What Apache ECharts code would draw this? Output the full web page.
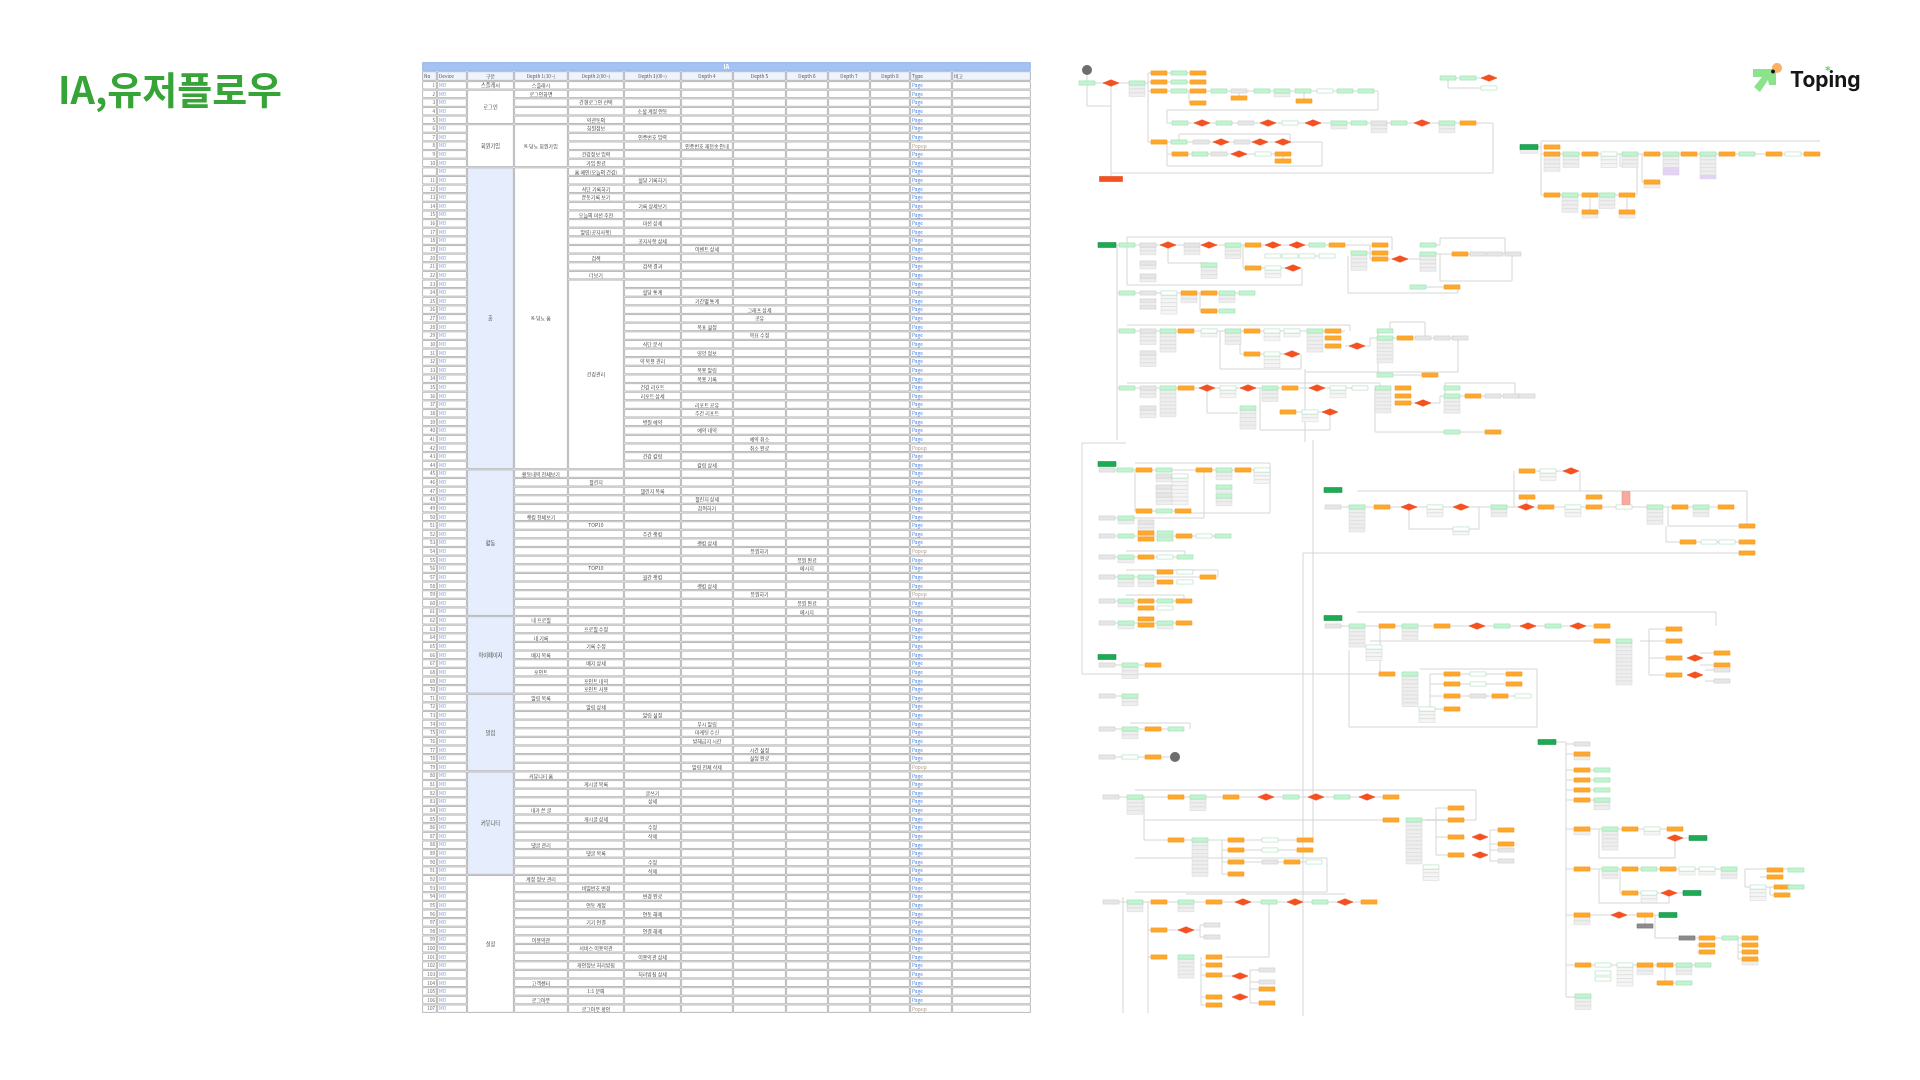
<!DOCTYPE html>
<html><head><meta charset="utf-8">
<script src="https://cdn.jsdelivr.net/npm/echarts@6/dist/echarts.min.js"></script>
<style>html,body{margin:0;padding:0;background:#fff}#c{width:1920px;height:1080px}</style>
</head><body><div id="c"></div>
<script>
// ---------- DATA ----------
const pageTitle = 'IA,유저플로우';
const brandName = 'Toping';
const tableTitle = 'IA';
const tableColumns = ['No','Device','구분','Depth 1(10~)','Depth 2(00~)','Depth 3(00~)','Depth 4','Depth 5','Depth 6','Depth 7','Depth 8','Type','비고'];
const deviceLabel = 'MO';
const rowNos = [1,2,3,4,5,6,7,8,9,10,'',11,12,13,14,15,16,17,18,19,20,21,22,23,24,25,26,27,28,29,30,31,32,33,34,35,36,37,38,39,40,41,42,43,44,45,46,47,48,49,50,51,52,53,54,55,56,57,58,59,60,61,62,63,64,65,66,67,68,69,70,71,72,73,74,75,76,77,78,79,80,81,82,83,84,85,86,87,88,89,90,91,92,93,94,95,96,97,98,99,100,101,102,103,104,105,106,107];
const rowLevel = [1,1,2,3,2,2,3,4,2,2, 2,3,2,2,3,2,3,2,3,4, 2,3,2,0,3,4,5,5,4,5, 3,4,3,4,4,3,3,4,4,3, 4,5,5,3,4,1,2,3,4,4, 1,2,3,4,5,6,6,3,4,5, 6,6,1,2,1,2,1,2,1,2, 2,1,2,3,4,4,4,5,5,4, 1,2,3,3,1,2,3,3,1,2, 3,3,1,2,3,2,3,2,3,1, 2,3,2,3,1,2,1,2];
const rowText = ['스플래시','로그인화면','간편로그인 선택','소셜 계정 연동','약관동의','회원정보','인증번호 입력','인증번호 재전송 안내','건강정보 입력','가입 완료',
 '홈 메인(오늘의 건강)','혈당 기록하기','식단 기록하기','운동기록 보기','기록 상세보기','오늘의 미션 추천','미션 상세','알림(공지사항)','공지사항 상세','이벤트 상세',
 '검색','검색 결과','더보기','','혈당 통계','기간별 통계','그래프 상세','공유','목표 설정','목표 수정',
 '식단 분석','영양 정보','약 복용 관리','복용 알림','복용 기록','건강 리포트','리포트 상세','리포트 공유','주간 리포트','병원 예약',
 '예약 내역','예약 취소','취소 완료','건강 칼럼','칼럼 상세','활동내역 전체보기','챌린지','챌린지 목록','챌린지 상세','참여하기',
 '랭킹 전체보기','TOP10','주간 랭킹','랭킹 상세','응원하기','응원 완료','메시지','월간 랭킹','랭킹 상세','응원하기',
 '응원 완료','메시지','내 프로필','프로필 수정','내 기록','기록 수정','배지 목록','배지 상세','포인트','포인트 내역',
 '포인트 사용','알림 목록','알림 상세','알림 설정','푸시 알림','마케팅 수신','방해금지 시간','시간 설정','설정 완료','알림 전체 삭제',
 '커뮤니티 홈','게시글 목록','글쓰기','상세','내가 쓴 글','게시글 상세','수정','삭제','댓글 관리','댓글 목록',
 '수정','삭제','계정 정보 관리','비밀번호 변경','변경 완료','연동 계정','연동 해제','기기 연결','연결 해제','이용약관',
 '서비스 이용약관','이용약관 상세','개인정보 처리방침','처리방침 상세','고객센터','1:1 문의','로그아웃','로그아웃 확인'];
const extraTexts = [[56, 2, 'TOP10']];
const popupRows = [7, 42, 54, 59, 79, 107];
const typeLabels = ['Page', 'Popup'];
const groups = [[0,0,'스플래시',0],[1,4,'로그인',0],[5,9,'회원가입',0],[10,44,'홈',1],[45,61,'활동',1],[62,70,'마이페이지',1],[71,79,'알림',1],[80,91,'커뮤니티',1],[92,107,'설정',0]];
const d1Merges = [[5,9,'K-당뇨 회원가입'],[10,44,'K-당뇨 홈']];
const d2Merges = [[23,44,'건강관리']];

// flowchart nodes: [x, y, type, subRows, purpleRows]
const flowNodes = [
 [1087,70,'k'],[1087,83,'g'],[1111,83,'r'],[1137,83,'g',3],
 [1159,73,'o'],[1179,73,'g'],[1198,73,'o'],[1159,82,'o'],[1179,82,'g'],[1198,82,'o'],[1159,91,'o'],[1179,91,'g'],[1198,91,'o'],[1198,103,'o'],
 [1219,91,'g'],[1239,91,'a'],[1239,98,'o'],[1262,91,'g'],[1282,91,'g',1],[1303,91,'g'],[1304,101,'o'],[1325,91,'w'],[1345,91,'g'],[1366,91,'g'],
 [1448,78,'g'],[1468,78,'g'],[1489,78,'r'],[1489,88,'w'],
 [1180,123,'g'],[1202,123,'r'],[1224,123,'g'],[1246,123,'a'],[1268,123,'r'],[1290,123,'w'],[1313,123,'r'],[1339,123,'g',1],[1359,123,'g'],[1379,123,'a',2],[1399,123,'g'],[1422,123,'r'],[1447,123,'g',2],[1468,123,'o'],
 [1159,142,'o'],[1179,142,'g'],[1201,142,'a'],[1221,142,'r'],[1242,142,'a'],[1260,142,'r'],[1283,142,'r'],
 [1180,154,'o'],[1200,154,'g'],[1219,154,'a'],[1239,154,'r'],[1263,154,'w'],[1283,154,'o'],[1283,161,'o'],
 [1111,179,'R'],
 [1529,147,'G',1],[1552,147,'o'],
 [1552,154,'o',4],[1571,154,'g',3],[1590,154,'o'],[1609,154,'w',3],[1630,154,'g',3],[1652,154,'o'],[1671,154,'g',5,2],[1689,154,'o'],[1708,154,'g',6,1],[1727,154,'o'],[1747,154,'g'],[1774,154,'o'],[1793,154,'w'],[1812,154,'o'],
 [1652,182,'o',1],
 [1552,195,'o'],[1570,195,'g',4],[1590,195,'o'],[1607,195,'g',3],[1627,195,'o'],[1590,212,'o',1],[1627,212,'o',1],
 [1107,245,'G'],
 [1127,245,'g'],[1148,245,'a',2],[1148,263,'a',1],[1148,276,'a',1],[1168,245,'r'],[1192,245,'a',2],[1209,245,'r'],[1233,245,'g',3],[1253,245,'o'],[1273,245,'r'],[1297,245,'r'],[1317,245,'g'],[1337,245,'o'],
 [1380,245,'o'],[1380,253,'o'],[1380,259,'o'],[1400,259,'r'],
 [1428,245,'g'],[1428,254,'g',4],[1460,254,'o'],[1478,254,'a'],[1495,254,'a'],[1513,254,'a'],
 [1273,256,'w'],[1290,256,'w'],[1307,256,'w'],[1327,256,'w'],[1359,253,'g',4],[1209,265,'g',3],
 [1253,268,'o'],[1273,268,'w',2],[1293,268,'r'],[1418,287,'g'],[1452,287,'o'],
 [1127,293,'g'],[1148,293,'a'],[1148,301,'a'],[1148,307,'a'],[1169,293,'w',5],[1189,293,'o',2],[1209,293,'o'],[1227,293,'g',2],[1247,293,'g'],[1209,311,'o'],[1227,311,'g'],
 [1127,331,'g'],[1148,331,'a',3],[1148,353,'a',3],[1168,331,'g',5],[1186,331,'o'],[1209,331,'w',1],[1233,331,'g',3],[1252,331,'o'],[1272,331,'w',2],[1292,331,'w',1],[1315,331,'g',5],
 [1333,331,'o'],[1333,338,'o'],[1333,346,'o'],[1357,346,'r'],[1385,331,'g'],[1385,338,'g',6],[1405,338,'o'],[1423,338,'a'],[1442,338,'a'],[1460,338,'a'],
 [1252,354,'o'],[1272,354,'w',3],[1292,354,'r'],[1385,375,'g'],[1430,375,'o'],
 [1127,388,'g'],[1148,388,'a',2],[1148,408,'a',2],[1168,388,'g',7],[1186,388,'o'],[1207,388,'r'],[1228,388,'w',2],[1248,388,'r'],[1270,388,'g',3],[1290,388,'o'],[1317,388,'r'],[1338,388,'w',2],[1360,388,'w'],[1383,388,'g',6],
 [1403,388,'o'],[1403,396,'o'],[1403,403,'o'],[1423,403,'r'],[1452,388,'g'],[1452,396,'g',4],[1473,396,'o'],[1493,396,'a'],[1511,396,'a'],[1527,396,'a'],
 [1248,408,'g',5],[1288,412,'o'],[1310,412,'w',2],[1330,412,'r'],[1452,432,'g'],[1493,432,'o'],
 [1107,464,'G'],
 [1107,470,'a'],[1125,470,'g'],[1144,470,'o'],[1164,470,'g'],[1164,476,'a',1],[1164,487,'a',1],[1164,495,'a',2],[1180,476,'w',7],[1204,470,'o'],[1224,470,'g',2],[1224,487,'g',1],[1224,496,'g',2],[1243,470,'o'],[1262,470,'w',3],
 [1144,511,'o'],[1164,511,'g'],[1183,511,'o'],
 [1107,518,'a'],[1126,518,'g',1],[1146,522,'a',2],
 [1107,536,'a'],[1126,536,'g'],[1146,533,'o'],[1146,539,'o'],[1165,533,'g'],[1165,539,'g'],[1184,536,'o'],[1204,536,'w'],[1223,536,'g'],
 [1107,557,'a'],[1126,557,'g',1],[1146,557,'o'],[1165,557,'w'],[1185,557,'g'],
 [1107,577,'a'],[1126,577,'g',2],[1146,577,'g',2],[1165,572,'o'],[1165,582,'o'],[1185,572,'w'],[1185,582,'w'],[1208,577,'o'],
 [1107,601,'a'],[1126,601,'g',1],[1146,601,'o'],[1146,608,'o'],[1165,601,'g'],[1165,608,'w'],[1184,601,'o'],
 [1107,623,'a'],[1126,623,'g',1],[1146,619,'o'],[1146,625,'o'],[1165,623,'g',1],[1184,623,'o'],
 [1107,657,'G'],[1107,665,'a'],[1130,665,'g',3],[1153,665,'o'],
 [1107,696,'a'],[1130,696,'g',2],
 [1107,729,'a'],[1130,729,'g',2],[1153,729,'o'],[1176,729,'g'],
 [1107,757,'a'],[1130,757,'w'],[1153,757,'o'],[1175,757,'k'],
 [1333,490,'G'],
 [1333,507,'a'],[1357,507,'g',6],[1382,507,'o'],[1409,507,'r'],[1435,507,'w',2],[1461,507,'r'],[1499,507,'g',2],[1526,507,'r'],[1546,507,'o'],[1573,507,'w',2],[1594,507,'o'],[1624,507,'w'],[1655,507,'g',4],[1680,507,'o'],[1701,507,'g',2],[1726,507,'o'],
 [1527,471,'o'],[1548,471,'w',2],[1571,471,'r'],[1527,497,'o'],[1594,497,'o'],[1626,498,'P'],[1461,529,'w',1],
 [1747,526,'o'],[1688,542,'o'],[1709,542,'w'],[1727,542,'w'],[1747,542,'o'],[1747,553,'o'],
 [1333,618,'G'],
 [1333,626,'a'],[1357,626,'g',5],[1387,626,'o'],[1410,626,'g',3],[1442,626,'o'],[1477,626,'r'],[1502,626,'g'],[1528,626,'r'],[1553,626,'g'],[1578,626,'r'],[1602,626,'o'],
 [1602,641,'o'],[1624,641,'g',11],
 [1674,629,'o'],[1674,641,'o'],[1674,658,'o'],[1674,675,'o'],[1695,658,'r'],[1695,675,'r'],[1722,653,'o'],[1722,665,'o'],[1722,670,'a'],[1722,681,'a'],
 [1374,647,'w',3],
 [1387,674,'o'],[1410,674,'g',8],[1452,674,'o'],[1452,684,'o'],[1452,696,'o'],[1452,709,'o'],[1478,674,'w'],[1478,684,'w'],[1478,696,'a'],[1514,674,'o'],[1514,684,'o'],[1500,696,'o'],[1523,696,'w'],
 [1427,709,'w',3],
 [1111,797,'a'],[1135,797,'g',4],[1176,797,'o'],[1198,797,'g',3],[1231,797,'o'],[1266,797,'r'],[1291,797,'g'],[1316,797,'r'],[1342,797,'g'],[1367,797,'r'],[1391,797,'o'],
 [1391,820,'o'],[1414,820,'g',11],[1456,808,'o'],[1456,820,'o'],[1456,837,'o'],[1456,855,'o'],[1480,837,'r'],[1480,855,'r'],[1506,830,'o'],[1506,844,'o'],[1506,850,'a'],[1506,861,'a'],
 [1431,867,'w',3],
 [1176,840,'o'],[1200,840,'g',9],[1236,840,'o'],[1236,850,'o'],[1236,862,'o'],[1236,874,'o'],[1270,840,'w'],[1270,850,'w'],[1305,840,'o'],[1305,850,'o'],[1270,862,'a'],[1292,862,'o'],[1314,862,'w'],
 [1111,902,'a'],[1135,902,'g',2],[1159,902,'o'],[1186,902,'g',2],[1214,902,'o'],[1243,902,'r'],[1269,902,'g'],[1295,902,'r'],[1320,902,'g'],[1345,902,'r'],[1369,902,'o'],
 [1159,930,'o'],[1186,930,'r'],[1212,925,'a'],[1212,937,'a'],
 [1159,957,'o'],[1186,957,'g',5],[1214,957,'o'],[1214,965,'o'],[1214,975,'o'],[1214,997,'o'],[1214,1005,'o'],[1240,976,'r'],[1240,997,'r'],[1267,970,'a'],[1267,982,'a'],[1267,989,'o'],[1267,1003,'o'],
 [1547,742,'G'],
 [1582,744,'a'],[1582,754,'o',1],[1582,770,'o'],[1602,770,'g'],[1582,780,'o'],[1602,780,'g'],[1582,790,'o'],[1602,790,'g'],[1582,800,'o'],[1602,800,'g',2],
 [1582,829,'o',1],[1610,829,'g',5],[1630,829,'o'],[1652,829,'w',1],[1675,829,'o'],[1675,838,'r'],[1698,838,'G'],
 [1582,869,'o'],[1610,869,'g',2],[1630,869,'o'],[1649,869,'g'],[1668,869,'o'],[1687,869,'w',1],[1707,869,'w',1],[1729,869,'g',2],[1775,870,'o'],[1775,877,'o'],[1796,870,'g'],[1758,887,'w',3],[1782,887,'o'],[1782,895,'o'],[1796,887,'g'],
 [1630,893,'o'],[1649,893,'w',2],[1669,893,'r'],[1692,893,'G'],
 [1582,915,'o',2],[1619,915,'r'],[1645,915,'o'],[1668,915,'G'],[1645,926,'d'],
 [1687,938,'d'],[1707,938,'o'],[1730,938,'g'],[1750,938,'o'],[1750,945,'o'],[1750,952,'o'],[1750,959,'o',1],[1707,945,'o'],[1707,952,'o'],
 [1583,965,'o'],[1603,965,'w'],[1603,973,'w'],[1603,979,'w'],[1625,965,'w',5],[1645,965,'o',2],[1665,965,'o'],[1684,965,'g',2],[1703,965,'g'],[1665,983,'o'],[1684,983,'g'],
 [1583,996,'g',3]
];

// flowchart connectors (polylines)
const flowLinks = [
 [[1087,70],[1087,83],[1148,83]],[[1148,73],[1148,142]],[[1148,73],[1198,73]],[[1148,82],[1198,82]],[[1148,91],[1366,91]],
 [[1189,91],[1189,103],[1198,103]],[[1239,91],[1239,98]],[[1304,91],[1304,101]],[[1087,83],[1087,106],[1111,106]],
 [[1111,83],[1111,179]],[[1111,173],[1493,173],[1493,123],[1468,123]],
 [[1366,91],[1378,91],[1378,110],[1167,110],[1167,123],[1468,123]],
 [[1148,142],[1283,142]],[[1179,142],[1179,134],[1290,134],[1290,142]],[[1167,142],[1167,166],[1322,166],[1322,142],[1283,142]],
 [[1167,154],[1283,154],[1283,161]],
 [[1448,78],[1489,78]],[[1448,78],[1448,88],[1489,88]],
 [[1529,147],[1541,147]],[[1541,141],[1820,141]],[[1541,141],[1541,195],[1627,195]],[[1541,154],[1812,154]],
 [[1620,154],[1620,166],[1637,166],[1637,195]],[[1642,154],[1642,182],[1652,182]],[[1590,195],[1590,212]],[[1627,195],[1627,212]],
 [[1107,245],[1337,245]],[[1117,245],[1117,440]],[[1117,293],[1127,293]],[[1117,331],[1127,331]],[[1117,388],[1127,388]],
 [[1337,245],[1370,245],[1370,259],[1400,259]],[[1359,253],[1380,253]],[[1400,259],[1420,259],[1420,254],[1513,254]],
 [[1428,245],[1440,245],[1440,238],[1505,238],[1505,254]],[[1127,237],[1392,237],[1392,250]],[[1127,237],[1127,285],[1302,285],[1302,268]],
 [[1243,245],[1243,268],[1293,268]],[[1168,245],[1168,263],[1209,263]],[[1348,256],[1348,293],[1458,293],[1458,287]],[[1418,287],[1452,287]],
 [[1440,254],[1440,281],[1512,281],[1512,254]],[[1273,256],[1327,256]],
 [[1127,293],[1247,293]],[[1200,293],[1200,311],[1227,311]],
 [[1127,331],[1345,331]],[[1127,325],[1350,325],[1350,331]],[[1240,331],[1240,354],[1292,354]],[[1220,331],[1220,369],[1301,369],[1301,354]],
 [[1345,346],[1370,346],[1370,338],[1460,338]],[[1378,331],[1378,375],[1430,375]],[[1390,331],[1390,322],[1425,322],[1425,338]],
 [[1305,369],[1305,442]],[[1305,372],[1458,372],[1458,338]],
 [[1127,388],[1360,388]],[[1127,383],[1380,383],[1380,388]],[[1207,388],[1207,413],[1238,413]],[[1260,388],[1260,430],[1330,430],[1330,412]],
 [[1280,412],[1330,412]],[[1400,403],[1423,403]],[[1423,403],[1440,403],[1440,396],[1527,396]],[[1375,388],[1375,432],[1493,432]],
 [[1445,396],[1445,383],[1515,383],[1515,396]],
 [[1082,443],[1082,674],[1387,674]],[[1082,443],[1126,443]],
 [[1107,470],[1262,470]],[[1135,470],[1135,511],[1183,511]],[[1135,463],[1270,463],[1270,513],[1190,513]],[[1204,470],[1204,518],[1107,518]],
 [[1107,536],[1223,536]],[[1107,557],[1185,557]],[[1126,551],[1185,551],[1185,557]],[[1107,577],[1208,577]],[[1126,570],[1218,570],[1218,577]],
 [[1107,601],[1184,601]],[[1126,595],[1184,595],[1184,601]],[[1107,623],[1184,623]],
 [[1107,665],[1153,665]],[[1107,696],[1130,696]],[[1107,729],[1176,729]],[[1130,723],[1190,723],[1190,729]],[[1107,757],[1175,757]],
 [[1333,507],[1726,507]],[[1357,491],[1747,491],[1747,526]],[[1409,507],[1409,529],[1479,529],[1479,507]],[[1514,471],[1514,507]],
 [[1527,471],[1571,471]],[[1580,471],[1580,491]],[[1527,497],[1527,507]],[[1668,507],[1668,526],[1747,526]],[[1666,526],[1666,542],[1747,542]],
 [[1303,553],[1748,553]],[[1303,553],[1303,1016]],[[1313,440],[1313,843]],
 [[1333,626],[1602,626]],[[1357,612],[1716,612],[1716,626]],[[1370,641],[1602,641]],[[1649,629],[1649,675]],[[1649,629],[1674,629]],
 [[1640,641],[1674,641]],[[1649,658],[1674,658]],[[1649,675],[1674,675]],[[1700,653],[1722,653]],[[1700,665],[1722,665]],[[1705,670],[1722,670]],[[1705,681],[1722,681]],
 [[1380,626],[1380,674]],[[1349,650],[1349,727],[1537,727],[1537,669],[1420,669]],[[1430,674],[1430,709],[1452,709]],
 [[1430,674],[1514,674]],[[1430,684],[1514,684]],[[1430,696],[1523,696]],
 [[1111,797],[1391,797]],[[1135,790],[1476,790],[1476,820],[1425,820]],[[1144,797],[1144,840],[1176,840]],[[1144,820],[1391,820]],
 [[1436,808],[1436,855]],[[1436,808],[1456,808]],[[1436,837],[1456,837]],[[1436,855],[1456,855]],[[1414,820],[1456,820]],
 [[1490,830],[1490,861]],[[1490,830],[1506,830]],[[1490,844],[1506,844]],[[1490,850],[1506,850]],[[1490,861],[1506,861]],
 [[1176,840],[1305,840]],[[1222,840],[1222,874],[1236,874]],[[1222,862],[1314,862]],[[1222,850],[1305,850]],
 [[1135,858],[1327,858],[1327,892],[1135,892]],
 [[1111,902],[1369,902]],[[1186,894],[1345,894]],[[1148,902],[1148,1013]],[[1148,930],[1186,930]],[[1148,957],[1159,957]],
 [[1200,925],[1200,937]],[[1186,930],[1200,930]],[[1200,925],[1212,925]],[[1200,937],[1212,937]],
 [[1201,957],[1201,1005]],[[1201,965],[1214,965]],[[1201,975],[1214,975]],[[1201,997],[1214,997]],[[1201,1005],[1214,1005]],
 [[1214,976],[1240,976]],[[1250,970],[1250,1003]],[[1250,970],[1267,970]],[[1250,982],[1267,982]],[[1250,989],[1267,989]],[[1250,1003],[1267,1003]],
 [[1269,902],[1269,957],[1225,957]],[[1123,897],[1123,1013]],
 [[1547,742],[1566,742]],[[1566,742],[1566,997]],[[1566,744],[1582,744]],[[1566,754],[1582,754]],[[1566,770],[1602,770]],[[1566,780],[1602,780]],
 [[1566,790],[1602,790]],[[1566,800],[1602,800]],[[1566,829],[1675,829]],[[1566,869],[1729,869]],[[1566,915],[1668,915]],[[1566,965],[1703,965]],[[1566,997],[1583,997]],
 [[1599,829],[1599,858],[1675,858],[1675,838]],[[1675,838],[1698,838]],[[1620,869],[1620,893],[1692,893]],[[1599,869],[1599,903],[1669,903],[1669,893]],
 [[1745,869],[1796,869]],[[1745,869],[1745,887],[1796,887]],[[1760,877],[1775,877]],[[1770,887],[1770,895],[1782,895]],
 [[1655,915],[1655,938],[1750,938]],[[1738,938],[1738,959],[1750,959]],[[1738,945],[1750,945]],[[1738,952],[1750,952]],[[1697,945],[1707,945]],[[1697,952],[1707,952]],
 [[1665,965],[1665,983],[1684,983]],[[1645,926],[1645,915]]
];

// ---------- LAYOUT / STYLE ----------
const COL_W = [15,30,47,54,56,57,52,53,42,42,40,42,79];
const colEdges = [0];
COL_W.forEach(w => colEdges.push(colEdges[colEdges.length-1] + w));
const FONT = '"Noto Sans CJK KR", "Noto Sans", sans-serif';
const NODE_STYLE = {
  g:{fill:'#c3f4d1', stroke:'#9fdfb2'},
  o:{fill:'#ffa82e', stroke:'#f39b20'},
  w:{fill:'#ffffff', stroke:'#acdcbd'},
  a:{fill:'#e6e6e6', stroke:'#d0d0d0'},
  G:{fill:'#1ea954', stroke:'#17904a'},
  d:{fill:'#8c8c8c', stroke:'#777777'},
  R:{fill:'#f4511e', stroke:'#e04416'},
  P:{fill:'#f7aaa0', stroke:'#ee9085'}
};

function inMerge(list, i){ return list.some(m => i >= m[0] && i <= m[1]); }
function cellRect(api, c0, c1, r0, r1, fill, stroke){
  const p0 = api.coord([colEdges[c0], r0]);
  const p1 = api.coord([colEdges[c1], r1]);
  return {type:'rect', silent:true,
    shape:{x:p0[0]+0.6, y:p0[1]+0.6, width:p1[0]-p0[0]-1.2, height:p1[1]-p0[1]-1.2},
    style:{fill:fill, stroke:stroke||'#a8a8a8', lineWidth:0.8}};
}
function txt(api, x, y, s, opt){
  const p = api.coord([x, y]);
  return {type:'text', silent:true, x:p[0]+(opt.dx||0), y:p[1],
    style:{text:s, fontSize:opt.size||5, fontFamily:FONT, fontWeight:opt.weight||'normal', fill:opt.color||'#4a4a4a', align:opt.align||'center', verticalAlign:'middle'}};
}

function renderHeader(params, api){
  const kids = [];
  kids.push(cellRect(api, 0, 13, -2.2, -1.15, '#a4c2f4', '#8fb0e6'));
  kids.push(txt(api, colEdges[13]/2, -1.675, tableTitle, {color:'#ffffff', size:6, weight:'bold'}));
  for (let c = 0; c < 13; c++){
    kids.push(cellRect(api, c, c+1, -1.15, 0, '#eef3fc'));
    const left = c === 0 || c === 1 || c >= 11;
    kids.push(txt(api, left ? colEdges[c]+2 : (colEdges[c]+colEdges[c+1])/2, -0.575, tableColumns[c], {align:left?'left':'center', size:4.8, color:'#555'}));
  }
  return {type:'group', children:kids};
}

function renderRow(params, api){
  const i = api.value(1);
  const kids = [];
  for (let c = 0; c < 13; c++){
    if (c === 2) continue;
    if (c === 3 && inMerge(d1Merges, i)) continue;
    if (c === 4 && inMerge(d2Merges, i)) continue;
    kids.push(cellRect(api, c, c+1, i, i+1, '#ffffff'));
  }
  const yc = i + 0.5;
  kids.push(txt(api, colEdges[1]-2, yc, String(rowNos[i]), {align:'right', size:4.6, color:'#666'}));
  kids.push(txt(api, colEdges[1]+2, yc, deviceLabel, {align:'left', size:4.6, color:'#6f9be0'}));
  const lv = rowLevel[i];
  if (lv > 0 && rowText[i]) {
    const c = lv + 2;
    kids.push(txt(api, (colEdges[c]+colEdges[c+1])/2, yc, rowText[i], {size:5}));
  }
  extraTexts.forEach(e => { if (e[0] === i) { const c = e[1] + 2; kids.push(txt(api, (colEdges[c]+colEdges[c+1])/2, yc, e[2], {size:5})); } });
  const isPop = popupRows.indexOf(i) >= 0;
  kids.push(txt(api, colEdges[11]+2, yc, isPop ? typeLabels[1] : typeLabels[0], {align:'left', size:4.8, color: isPop ? '#b0a08c' : '#4f86e6'}));
  return {type:'group', children:kids};
}

function renderGroup(params, api){
  const g = groups[api.value(1)];
  return {type:'group', children:[
    cellRect(api, 2, 3, g[0], g[1]+1, g[3] ? '#e6edfc' : '#ffffff'),
    txt(api, (colEdges[2]+colEdges[3])/2, (g[0]+g[1]+1)/2, g[2], {size:5.2})
  ]};
}
function makeMergeRenderer(list, col){
  return function(params, api){
    const m = list[api.value(1)];
    return {type:'group', children:[
      cellRect(api, col, col+1, m[0], m[1]+1, '#ffffff'),
      txt(api, (colEdges[col]+colEdges[col+1])/2, (m[0]+m[1]+1)/2, m[2], {size:5})
    ]};
  };
}

function renderNode(params, api){
  const n = flowNodes[api.value(2)];
  const c = api.coord([n[0], n[1]]);
  const t = n[2];
  const kids = [];
  if (t === 'r') {
    const s = api.size([16, 6.5]);
    kids.push({type:'polygon', silent:true, shape:{points:[[c[0]-s[0]/2,c[1]],[c[0],c[1]-s[1]/2],[c[0]+s[0]/2,c[1]],[c[0],c[1]+s[1]/2]]}, style:{fill:'#f4511e', stroke:'#e8461a', lineWidth:0.5}});
    return {type:'group', children:kids};
  }
  if (t === 'k') {
    const s = api.size([10, 10]);
    kids.push({type:'circle', silent:true, shape:{cx:c[0], cy:c[1], r:s[0]/2}, style:{fill:'#6e6e6e'}});
    return {type:'group', children:kids};
  }
  let w = 16, h = 4.2;
  if (t === 'G') { w = 18; h = 5; }
  if (t === 'R') { w = 23; h = 5; }
  if (t === 'P') { w = 8; h = 13; }
  const s = api.size([w, h]);
  const st = NODE_STYLE[t];
  const subs = n[3] || 0, purple = n[4] || 0;
  const sub = api.size([w, 3.8]);
  for (let k = 0; k < subs; k++) {
    const isP = k >= subs - purple;
    kids.push({type:'rect', silent:true, shape:{x:c[0]-s[0]/2, y:c[1]+s[1]/2+k*sub[1], width:s[0], height:sub[1]},
      style:{fill: isP ? '#e4d2f7' : (t === 'w' ? '#f5f5f5' : '#eeeeee'), stroke:'#d6d6d6', lineWidth:0.5}});
  }
  kids.push({type:'rect', silent:true, shape:{x:c[0]-s[0]/2, y:c[1]-s[1]/2, width:s[0], height:s[1]}, style:{fill:st.fill, stroke:st.stroke, lineWidth:0.6}});
  return {type:'group', children:kids};
}

// ---------- CHART ----------
const chart = echarts.init(document.getElementById('c'), null, {renderer:'canvas'});
chart.setOption({
  animation:false,
  backgroundColor:'#ffffff',
  grid:[
    {left:422, top:62, width:colEdges[13], height:951},
    {left:0, top:0, width:1920, height:1080}
  ],
  xAxis:[
    {type:'value', gridIndex:0, min:0, max:colEdges[13], show:false},
    {type:'value', gridIndex:1, min:0, max:1920, show:false}
  ],
  yAxis:[
    {type:'value', gridIndex:0, min:-2.2, max:108, inverse:true, show:false},
    {type:'value', gridIndex:1, min:0, max:1080, inverse:true, show:false}
  ],
  graphic:[
    {type:'text', left:58, top:71, style:{text:pageTitle, fontSize:38, fontWeight:'bold', fontFamily:FONT, fill:'#36a437'}},
    {type:'polygon', shape:{points:[[1753,69],[1774,69],[1776,71],[1776,85],[1769,85],[1768,80],[1760,92],[1754,87],[1762,77],[1753,77]]}, style:{fill:'#8be38b'}},
    {type:'circle', shape:{cx:1777, cy:68, r:5}, style:{fill:'#f8b266'}},
    {type:'circle', shape:{cx:1773, cy:71.5, r:2}, style:{fill:'#111111'}},
    {type:'text', x:1790, y:81, style:{text:brandName, fontSize:21, fontWeight:'bold', fontFamily:'Inter, "Noto Sans", sans-serif', fill:'#161616', verticalAlign:'middle'}},
    {type:'text', x:1828, y:71, style:{text:'*', fontSize:11, fontWeight:'bold', fontFamily:'"DejaVu Sans", sans-serif', fill:'#5fd65f', align:'center', verticalAlign:'middle'}}
  ],
  series:[
    {type:'custom', xAxisIndex:0, yAxisIndex:0, renderItem:renderHeader, data:[[0,-2]], silent:true},
    {type:'custom', xAxisIndex:0, yAxisIndex:0, renderItem:renderRow, data:rowNos.map((_, i) => [0, i]), silent:true},
    {type:'custom', xAxisIndex:0, yAxisIndex:0, renderItem:renderGroup, data:groups.map((_, i) => [0, i]), silent:true},
    {type:'custom', xAxisIndex:0, yAxisIndex:0, renderItem:makeMergeRenderer(d1Merges, 3), data:d1Merges.map((_, i) => [0, i]), silent:true},
    {type:'custom', xAxisIndex:0, yAxisIndex:0, renderItem:makeMergeRenderer(d2Merges, 4), data:d2Merges.map((_, i) => [0, i]), silent:true},
    {type:'lines', coordinateSystem:'cartesian2d', xAxisIndex:1, yAxisIndex:1, polyline:true, silent:true, z:1,
      lineStyle:{color:'#d6d6d6', width:1, opacity:1}, data:flowLinks.map(p => ({coords:p}))},
    {type:'custom', xAxisIndex:1, yAxisIndex:1, renderItem:renderNode, z:3, silent:true, data:flowNodes.map((n, i) => [n[0], n[1], i])}
  ]
});
</script>
</body></html>
